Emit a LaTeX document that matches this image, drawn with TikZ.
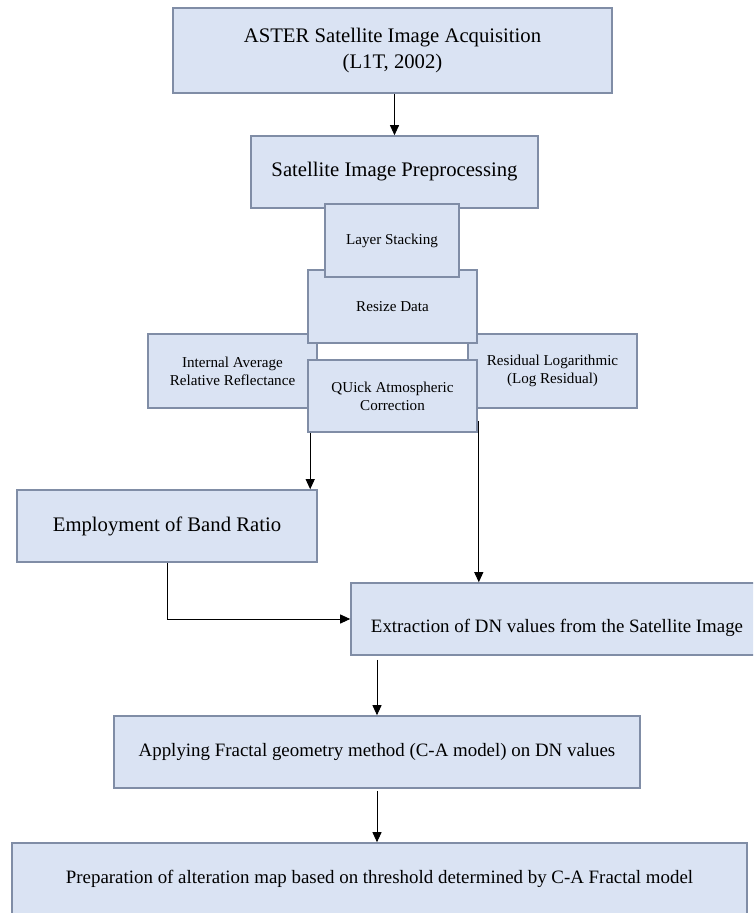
\documentclass[tikz,border=0pt]{standalone}
\usepackage{fontspec}
\setmainfont{Liberation Serif}
\usetikzlibrary{arrows.meta}
\definecolor{boxfill}{RGB}{218,227,243}
\definecolor{boxline}{RGB}{128,141,166}
\tikzset{
  box/.style={draw=boxline, fill=boxfill, line width=1.6pt, inner sep=0pt, align=center},
  bigtext/.style={font=\fontsize{20.7}{26}\selectfont},
  midtext/.style={font=\fontsize{18.9}{23}\selectfont},
  smalltext/.style={font=\fontsize{15.1}{18}\selectfont},
  arr/.style={-{Triangle[length=10pt,width=9pt]}, line width=0.9pt}
}
\begin{document}
\begin{tikzpicture}[x=1pt,y=-1pt]
                    \clip (0,0) rectangle (753,913);
                    \node[box, bigtext, minimum width=439pt, minimum height=85pt] (aster) at (392.5,50.5) {ASTER Satellite Image Acquisition\\(L1T, 2002)};
                    \node[box, bigtext, minimum width=287pt, minimum height=72pt] (preproc) at (394.5,172) {Satellite Image Preprocessing};
                    \node[box, smalltext, minimum width=169pt, minimum height=74pt] (iarr) at (232.5,371) {Internal Average\\Relative Reflectance};
                    \node[box, smalltext, minimum width=169pt, minimum height=74pt] (logres) at (552.5,371) {Residual Logarithmic\\(Log Residual)};
                    \node[box, smalltext, minimum width=169pt, minimum height=73pt] (resize) at (392.5,306.5) {Resize Data};
                    \node[box, smalltext, minimum width=134pt, minimum height=73pt] (layer) at (392,240.5) {Layer Stacking};
                    \node[box, smalltext, minimum width=169pt, minimum height=72pt] (quac) at (392.5,396) {QUick Atmospheric\\Correction};
                    \node[box, bigtext, minimum width=300pt, minimum height=72pt] (ratio) at (167,526) {Employment of Band Ratio};
                    \node[box, midtext, minimum width=412pt, minimum height=72pt] (extract) at (557,619) {\raisebox{-9pt}[\height][\depth]{Extraction of DN values from the Satellite Image}};
                    \node[box, midtext, minimum width=526pt, minimum height=72pt] (fractal) at (377,752) {Applying Fractal geometry method (C-A model) on DN values};
                    \node[box, midtext, minimum width=735pt, minimum height=72pt] (altmap) at (379.5,879) {Preparation of alteration map based on threshold determined by C-A Fractal model};
                    \draw[arr] (aster.south -| preproc.north) -- (preproc.north);
                    \draw[arr] ([xshift=3pt]quac.south west) -- ([xshift=3pt]quac.south west |- ratio.north);
                    \draw[arr] ([xshift=1pt,yshift=12pt]quac.south east) -- ([xshift=1pt]quac.south east |- extract.north);
                    \draw[arr] (ratio.south) -- (ratio.south |- extract.west) -- (extract.west);
                    \draw[arr] ([yshift=-4pt]fractal.north |- extract.south) -- (fractal.north);
                    \draw[arr] ([yshift=-2pt]fractal.south) -- (fractal.south |- altmap.north);
                \end{tikzpicture}
\end{document}
